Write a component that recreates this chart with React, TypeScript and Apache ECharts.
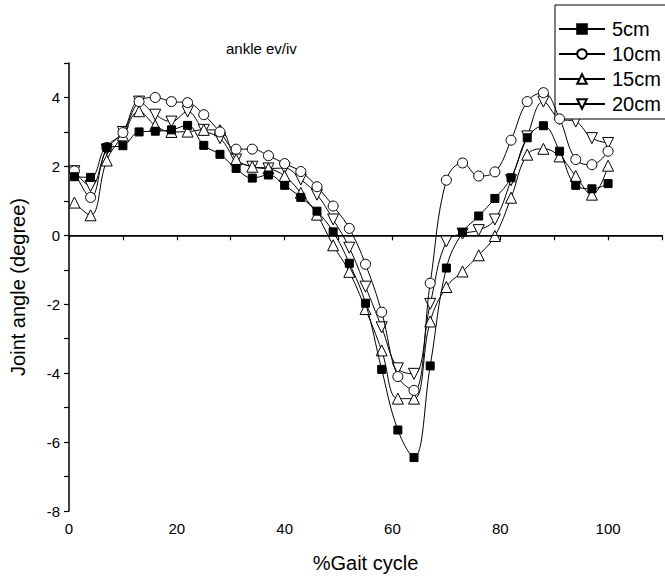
import React, { useEffect, useRef } from "react";
import * as echarts from "echarts";

const gaitX = [1, 4, 7, 10, 13, 16, 19, 22, 25, 28, 31, 34, 37, 40, 43, 46, 49, 52, 55, 58, 61, 64, 67, 70, 73, 76, 79, 82, 85, 88, 91, 94, 97, 100];
const cm5 = [1.7, 1.68, 2.55, 2.6, 3.0, 3.02, 3.06, 3.19, 2.61, 2.35, 1.94, 1.66, 1.75, 1.45, 1.1, 0.7, 0.1, -0.81, -1.97, -3.89, -5.65, -6.45, -3.79, -0.95, 0.08, 0.56, 1.07, 1.67, 2.83, 3.18, 2.44, 1.45, 1.35, 1.5];
const cm10 = [1.87, 1.1, 2.55, 2.98, 3.88, 4.0, 3.88, 3.85, 3.5, 3.0, 2.5, 2.5, 2.31, 2.08, 1.85, 1.41, 0.85, 0.2, -0.84, -2.23, -4.1, -4.5, -1.39, 1.6, 2.1, 1.72, 1.84, 2.76, 3.88, 4.14, 3.38, 2.2, 2.05, 2.44];
const cm15 = [0.95, 0.58, 2.17, 2.9, 3.6, 3.19, 3.0, 3.01, 3.06, 3.05, 2.2, 1.99, 1.94, 1.72, 1.23, 0.6, -0.29, -1.06, -2.14, -3.34, -4.74, -4.74, -2.5, -1.5, -1.05, -0.58, -0.02, 1.09, 2.34, 2.51, 2.29, 1.72, 1.18, 2.02];
const cm20 = [1.86, 1.43, 2.49, 3.0, 3.88, 3.5, 3.3, 3.59, 3.06, 2.82, 2.2, 1.99, 1.94, 1.95, 1.62, 1.18, 0.46, -0.36, -1.49, -2.67, -3.86, -4.02, -1.99, -0.18, 0.05, 0.15, 0.46, 1.6, 2.87, 3.88, 3.38, 3.3, 2.82, 2.68];
const seriesNames = ["5cm", "10cm", "15cm", "20cm"];

const FONT = "'Liberation Sans', Arial, sans-serif";

export default function App() {
  const ref = useRef<HTMLDivElement>(null);
  useEffect(() => {
    if (!ref.current) return;
    const chart = echarts.init(ref.current, null, { renderer: "svg" });
    const pair = (ys: number[]) => gaitX.map((x, i) => [x, ys[i]]);
    const mk = (name: string, ys: number[], symbol: string, size: number, fill: string, rotate = 0, z = 2) => ({
      name,
      type: "line",
      data: pair(ys),
      smooth: 0.4,
      symbol,
      symbolSize: size,
      symbolRotate: rotate,
      showAllSymbol: true,
      z,
      lineStyle: { color: "#000", width: 1 },
      itemStyle: { color: fill, borderColor: "#000", borderWidth: 1, opacity: 1 },
      emphasis: { disabled: true },
    });
    const s1: any = mk(seriesNames[0], cm5, "rect", 8, "#000", 0, 5);
    s1.markLine = {
      silent: true,
      symbol: "none",
      label: { show: false },
      lineStyle: { color: "#000", type: "solid", width: 1.2 },
      data: [{ yAxis: 0 }],
    };
    chart.setOption({
      animation: false,
      backgroundColor: "#fff",
      textStyle: { fontFamily: FONT },
      title: {
        text: "ankle ev/iv",
        left: 221,
        top: 36,
        textStyle: { fontFamily: FONT, fontSize: 15, fontWeight: "normal", color: "#000" },
      },
      legend: {
        orient: "vertical",
        left: 555,
        top: 5,
        padding: [13, 14, 4, 3],
        itemGap: 3,
        itemWidth: 46,
        itemHeight: 12,
        borderColor: "#000",
        borderWidth: 1,
        backgroundColor: "#fff",
        data: seriesNames,
        textStyle: { fontFamily: FONT, fontSize: 20, color: "#000", lineHeight: 22, padding: [0, 0, 0, 2] },
      },
      grid: { left: 69, top: 63, width: 597, height: 450 },
      xAxis: {
        type: "value",
        min: 0,
        max: 110,
        interval: 10,
        name: "%Gait cycle",
        nameLocation: "middle",
        nameGap: 42,
        nameTextStyle: { fontFamily: FONT, fontSize: 20, color: "#000" },
        axisLine: { lineStyle: { color: "#000", width: 1.5 } },
        axisTick: { inside: false, length: 5, lineStyle: { color: "#000", width: 1.2 } },
        axisLabel: {
          fontFamily: FONT,
          fontSize: 15,
          color: "#000",
          margin: 10,
          formatter: (v: number) => (v % 20 === 0 && v <= 100 ? String(v) : ""),
        },
        splitLine: { show: false },
      },
      yAxis: {
        type: "value",
        min: -8,
        max: 5,
        interval: 1,
        name: "Joint angle (degree)",
        nameLocation: "middle",
        nameGap: 41,
        nameTextStyle: { fontFamily: FONT, fontSize: 20, color: "#000" },
        axisLine: { onZero: false, lineStyle: { color: "#000", width: 1.5 } },
        axisTick: { inside: false, length: 5, lineStyle: { color: "#000", width: 1.2 } },
        axisLabel: {
          fontFamily: FONT,
          fontSize: 15,
          color: "#000",
          margin: 9,
          formatter: (v: number) => (v % 2 === 0 ? String(v) : ""),
        },
        splitLine: { show: false },
      },
      series: [
        s1,
        mk(seriesNames[1], cm10, "circle", 10, "#fff", 0, 4),
        mk(seriesNames[2], cm15, "triangle", 11, "#fff", 0, 3),
        mk(seriesNames[3], cm20, "triangle", 11, "#fff", 180, 2),
      ],
    });
    return () => chart.dispose();
  }, []);
  return <div ref={ref} style={{ position: "fixed", left: 0, top: 0, width: 665, height: 578 }} />;
}
